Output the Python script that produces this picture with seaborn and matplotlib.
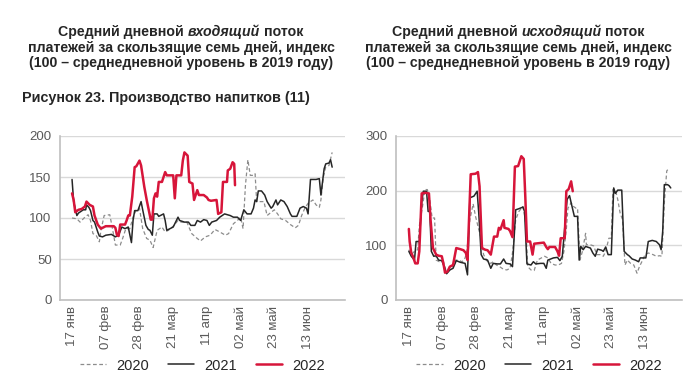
import matplotlib
matplotlib.use('Agg')
import matplotlib.pyplot as plt
import seaborn as sns

sns.set_theme(style="white")
plt.rcParams['font.family'] = ['Liberation Sans', 'DejaVu Sans']

# подписи оси X (каждые 21 день, день 0 = 17 янв)
tick_days = [0, 21, 42, 63, 84, 105, 126, 147]
tick_labels = ['17 янв', '07 фев', '28 фев', '21 мар', '11 апр', '02 май', '23 май', '13 июн']

# входящий поток
in20_day = [0, 3, 5, 8, 10, 11.5, 13, 15, 17, 18, 20, 23.5, 25, 27, 30, 31.5, 33.5, 36, 38, 40, 42, 44, 46.5,
            48.5, 50.5, 53, 56, 58, 60, 63, 66, 68, 71.5, 74.5, 78, 80, 83, 86, 89, 92, 95.5, 97.5, 100.5, 103,
            105, 106.5, 108, 109.5, 111, 113, 114, 115, 117, 119.5, 121.5, 124, 126, 128, 130, 133, 136, 139,
            141, 143, 145, 147, 150, 152, 154, 155, 156.5, 158, 160, 162]
in20_val = [100, 99, 95, 101, 104, 97, 81, 79, 71, 85, 103, 104, 89, 67, 67, 75, 87, 87, 101, 110, 112, 87, 75,
            73, 64, 85, 89, 83, 85, 90, 97, 95, 95, 81, 75, 72, 77, 79, 86, 83, 79, 81, 93, 97,
            101, 87, 140, 171, 152, 152, 154, 120, 120, 120, 103, 107, 110, 105, 99, 97, 92, 88,
            91, 103, 112, 118, 122, 116, 113, 122, 150, 162, 164, 180]

in21_day = [0, 1, 3, 4, 7, 8.5, 9, 10.5, 11.5, 13, 14, 16, 17, 19, 21, 24.5, 27, 29, 31, 33, 35, 37, 38, 39,
            41, 43, 44, 46, 47.5, 48.5, 50, 51, 53, 54, 57, 58, 59, 61, 63, 66, 67, 70, 72.5, 74, 76.5, 78,
            80, 82, 84, 85.5, 87, 90, 92, 95, 98.5, 100.5, 103, 105, 107, 109, 111.5, 113, 114, 115, 116,
            118, 120, 121.5, 124, 125, 127, 128, 130, 132, 134, 136, 137, 140, 142, 144, 146, 147, 148.5,
            152, 154, 155, 157, 158, 160, 161, 162]
in21_val = [147, 120, 103, 106, 110, 110, 116, 113, 109, 97, 95, 83, 78, 77, 79, 80, 77, 79, 89, 87, 89, 70, 97, 109,
            109, 120, 110, 91, 86, 85, 79, 105, 105, 102, 105, 97, 85, 87, 89, 101, 97, 95, 95, 91, 91, 97,
            95, 98, 97, 91, 95, 97, 101, 105, 103, 101, 101, 97, 110, 105, 105, 112, 122, 120, 133,
            133, 128, 120, 112, 114, 122, 116, 122, 120, 114, 105, 102, 102, 112, 114, 112, 105, 147,
            147, 148, 128, 160, 166, 167, 171, 162]

in22_day = [0, 1, 2, 4, 6, 8, 9, 11, 13, 14, 16, 18, 21, 26, 27, 28, 29, 30, 33, 34, 35, 36, 37.5, 39, 40, 42,
            43, 45, 46.5, 49, 50, 51, 52, 53, 54, 56, 57, 58, 59, 63, 64, 65, 68, 69, 70, 72, 73, 75, 76, 78,
            79, 82, 84, 85, 86.5, 90, 91, 93, 94, 96.5, 97, 98.5, 100, 101, 101.5]
in22_val = [130, 122, 107, 110, 111, 114, 120, 116, 114, 103, 92, 87, 90, 90, 88, 79, 78, 92, 92, 97, 103, 103, 126, 162, 163, 170,
            164, 138, 122, 98, 98, 124, 130, 126, 144, 144, 150, 156, 152, 152, 124, 152, 152, 170, 180, 176, 144, 142, 122, 134,
            128, 128, 125, 122, 121, 122, 105, 107, 144, 144, 158, 160, 168, 166, 140]

# исходящий поток
out20_day = [0, 1.5, 3.5, 5.5, 6.5, 8.5, 10, 11.5, 13, 14.5, 16, 17, 19, 21.5, 23, 24.5, 26.5, 29, 31, 33, 34.5,
             36, 38, 40, 41.5, 43.5, 45.5, 46.5, 49, 51, 52.5, 54.5, 56.5, 59, 61, 63, 64.5, 66.5, 68.5, 71,
             72.5, 74, 76, 78, 80, 82.5, 84.5, 86.5, 88.5, 91, 93, 95, 96.5, 98, 99, 101, 102.5, 104, 105,
             106.5, 108, 110, 110.5, 113, 115, 117, 119, 121, 122.5, 124.5, 126, 127, 128.5, 130, 131.5, 133,
             134.5, 136, 138, 140, 142, 143.5, 145.5, 147, 149, 152, 154, 156, 157.5, 159, 160.5, 162]
out20_val = [92, 83, 89, 92, 135, 171, 202, 202, 184, 150, 150, 73, 70, 70, 55, 52, 58, 73, 73, 70, 73,
             86, 147, 176, 153, 129, 107, 83, 70, 67, 70, 64, 61, 56, 55, 58, 86, 147, 162, 171,
             147, 61, 55, 54, 73, 77, 80, 77, 67, 64, 64, 67, 89, 129, 168, 178, 171, 168, 168,
             73, 89, 122, 101, 101, 99, 83, 83, 80, 89, 113, 113, 202, 202, 184, 159, 147,
             64, 73, 67, 64, 49, 61, 73, 83, 86, 83, 80, 81, 80, 178, 236, 242]

out21_day = [0, 1.5, 3.5, 4.5, 6.5, 8, 9, 11, 12, 13, 14, 15.5, 17, 18.5, 20.5, 22, 23.5, 25.5, 27.5, 29.5, 32,
             35, 36.5, 38, 40.5, 42.5, 43.5, 45, 46.5, 49, 51, 52.5, 55, 57, 59, 60.5, 63, 64.5, 66.5, 68.5,
             71, 72, 73.5, 76, 77.5, 79, 82, 84, 85.5, 86.5, 90, 92.5, 94, 95.5, 97, 98.5, 100, 101, 103, 105,
             106, 107, 108.5, 110, 113, 114.5, 116, 117.5, 120, 121, 122.5, 124, 126, 127.5, 128.5, 130,
             132.5, 134, 136, 137, 139, 141, 143, 144, 147.5, 149, 151.5, 154, 156, 157, 158, 159, 161, 162, 163]
out21_val = [89, 80, 73, 107, 107, 178, 199, 199, 162, 162, 89, 80, 81, 73, 72, 61, 48, 55, 58, 72, 69,
             67, 46, 187, 190, 199, 159, 83, 75, 73, 58, 67, 66, 66, 75, 67, 66, 61, 165, 167,
             170, 162, 66, 64, 70, 66, 67, 67, 58, 73, 77, 78, 72, 80, 132, 184, 191, 178, 153, 153,
             73, 98, 92, 98, 95, 86, 80, 93, 91, 89, 97, 83, 83, 205, 195, 201,
             201, 89, 83, 81, 75, 73, 70, 77, 77, 107, 109, 107, 101, 92, 126, 211, 211, 209, 205]

out22_day = [0, 0.5, 1.5, 2.5, 4, 5.5, 6.5, 8, 10, 12.5, 13.5, 15, 17, 18.5, 20.5, 21.5, 22.5, 24, 25.5, 27.5,
             29.5, 32, 34, 35.5, 36.5, 38.5, 41.5, 43, 44, 45.5, 47.5, 49, 51, 53, 55, 56, 57, 59, 59.5, 62,
             63, 64.5, 66, 68, 70, 71.5, 72.5, 73.5, 75.5, 77, 78, 81, 84, 85.5, 86.5, 87.5, 91, 92.5, 93.5,
             94.5, 97, 98, 99.5, 101, 102]
out22_val = [130, 107, 86, 80, 67, 67, 89, 195, 196, 195, 147, 95, 83, 81, 80, 67, 50, 52, 61, 64,
             95, 93, 91, 86, 73, 230, 231, 234, 208, 95, 92, 91, 83, 116, 116, 132, 129, 146, 132, 130,
             126, 115, 244, 245, 263, 258, 187, 107, 107, 83, 103, 104, 105, 97, 93, 97, 97, 89, 81,
             113, 113, 199, 203, 217, 199]

C20, C21, C22 = '#8c8c8c', '#262626', '#d7153a'

fig = plt.figure(figsize=(7, 3.87), dpi=100)
ax1 = fig.add_axes([60 / 700, 1 - 300 / 387, 285 / 700, 164 / 387])
ax2 = fig.add_axes([396 / 700, 1 - 300 / 387, 286 / 700, 164 / 387])

panels = [
    (ax1, in20_day, in20_val, in21_day, in21_val, in22_day, in22_val, 200, [0, 50, 100, 150, 200], -7.5),
    (ax2, out20_day, out20_val, out21_day, out21_val, out22_day, out22_val, 300, [0, 100, 200, 300], -8),
]

for ax, d20, v20, d21, v21, d22, v22, ymax, yticks, x0 in panels:
    sns.lineplot(x=d20, y=v20, ax=ax, color=C20, lw=0.9, linestyle=(0, (3, 2)), label='2020')
    sns.lineplot(x=d21, y=v21, ax=ax, color=C21, lw=1.1, label='2021')
    sns.lineplot(x=d22, y=v22, ax=ax, color=C22, lw=1.8, label='2022')
    ax.set_xlim(x0, 170)
    ax.set_ylim(0, ymax)
    ax.set_yticks(yticks)
    ax.set_xticks(tick_days)
    ax.set_xticklabels(tick_labels, rotation=90)
    ax.tick_params(axis='both', length=0, labelsize=9.5, labelcolor='#595959')
    ax.tick_params(axis='y', pad=6)
    ax.tick_params(axis='x', pad=4)
    ax.grid(axis='y', color='#d9d9d9', lw=1)
    ax.set_axisbelow(True)
    for s in ['top', 'right']:
        ax.spines[s].set_visible(False)
    for s in ['left', 'bottom']:
        ax.spines[s].set_color('#bfbfbf')
        ax.spines[s].set_linewidth(1.2)
    ax.set_xlabel('')
    ax.set_ylabel('')
    ax.legend(loc='center', bbox_to_anchor=(0.5, -0.40), ncol=3, frameon=False, fontsize=10.5,
              handlelength=1.8, columnspacing=1.3, handletextpad=0.7)

# заголовки со словом курсивом
renderer = fig.canvas.get_renderer()
FS = 10.2


def title_line(xc, y, parts):
    texts = []
    for s, st in parts:
        texts.append(fig.text(0, y, s, fontsize=FS, fontweight='bold', style=st, ha='left', va='center'))
    probe_a = fig.text(0, 0, 'аа', fontsize=FS, fontweight='bold')
    probe_b = fig.text(0, 0, 'а а', fontsize=FS, fontweight='bold')
    space = probe_b.get_window_extent(renderer).width - probe_a.get_window_extent(renderer).width
    probe_a.remove()
    probe_b.remove()
    widths = [t.get_window_extent(renderer).width for t in texts]
    total = sum(widths) + space * (len(texts) - 1)
    x = xc - total / 2
    for t, w in zip(texts, widths):
        t.set_x(x / 700)
        x += w + space


for xc, word in [(181, 'входящий'), (518, 'исходящий')]:
    title_line(xc, 1 - 32 / 387, [('Средний дневной', 'normal'), (word, 'italic'), ('поток', 'normal')])
    title_line(xc, 1 - 48 / 387, [('платежей за скользящие семь дней, индекс', 'normal')])
    title_line(xc, 1 - 63.5 / 387, [('(100 – среднедневной уровень в 2019 году)', 'normal')])

fig.text(22 / 700, 1 - 98 / 387, 'Рисунок 23. Производство напитков (11)', fontsize=10.4,
         fontweight='bold', ha='left', va='center')

fig.savefig('out.png', dpi=100, facecolor='white')
